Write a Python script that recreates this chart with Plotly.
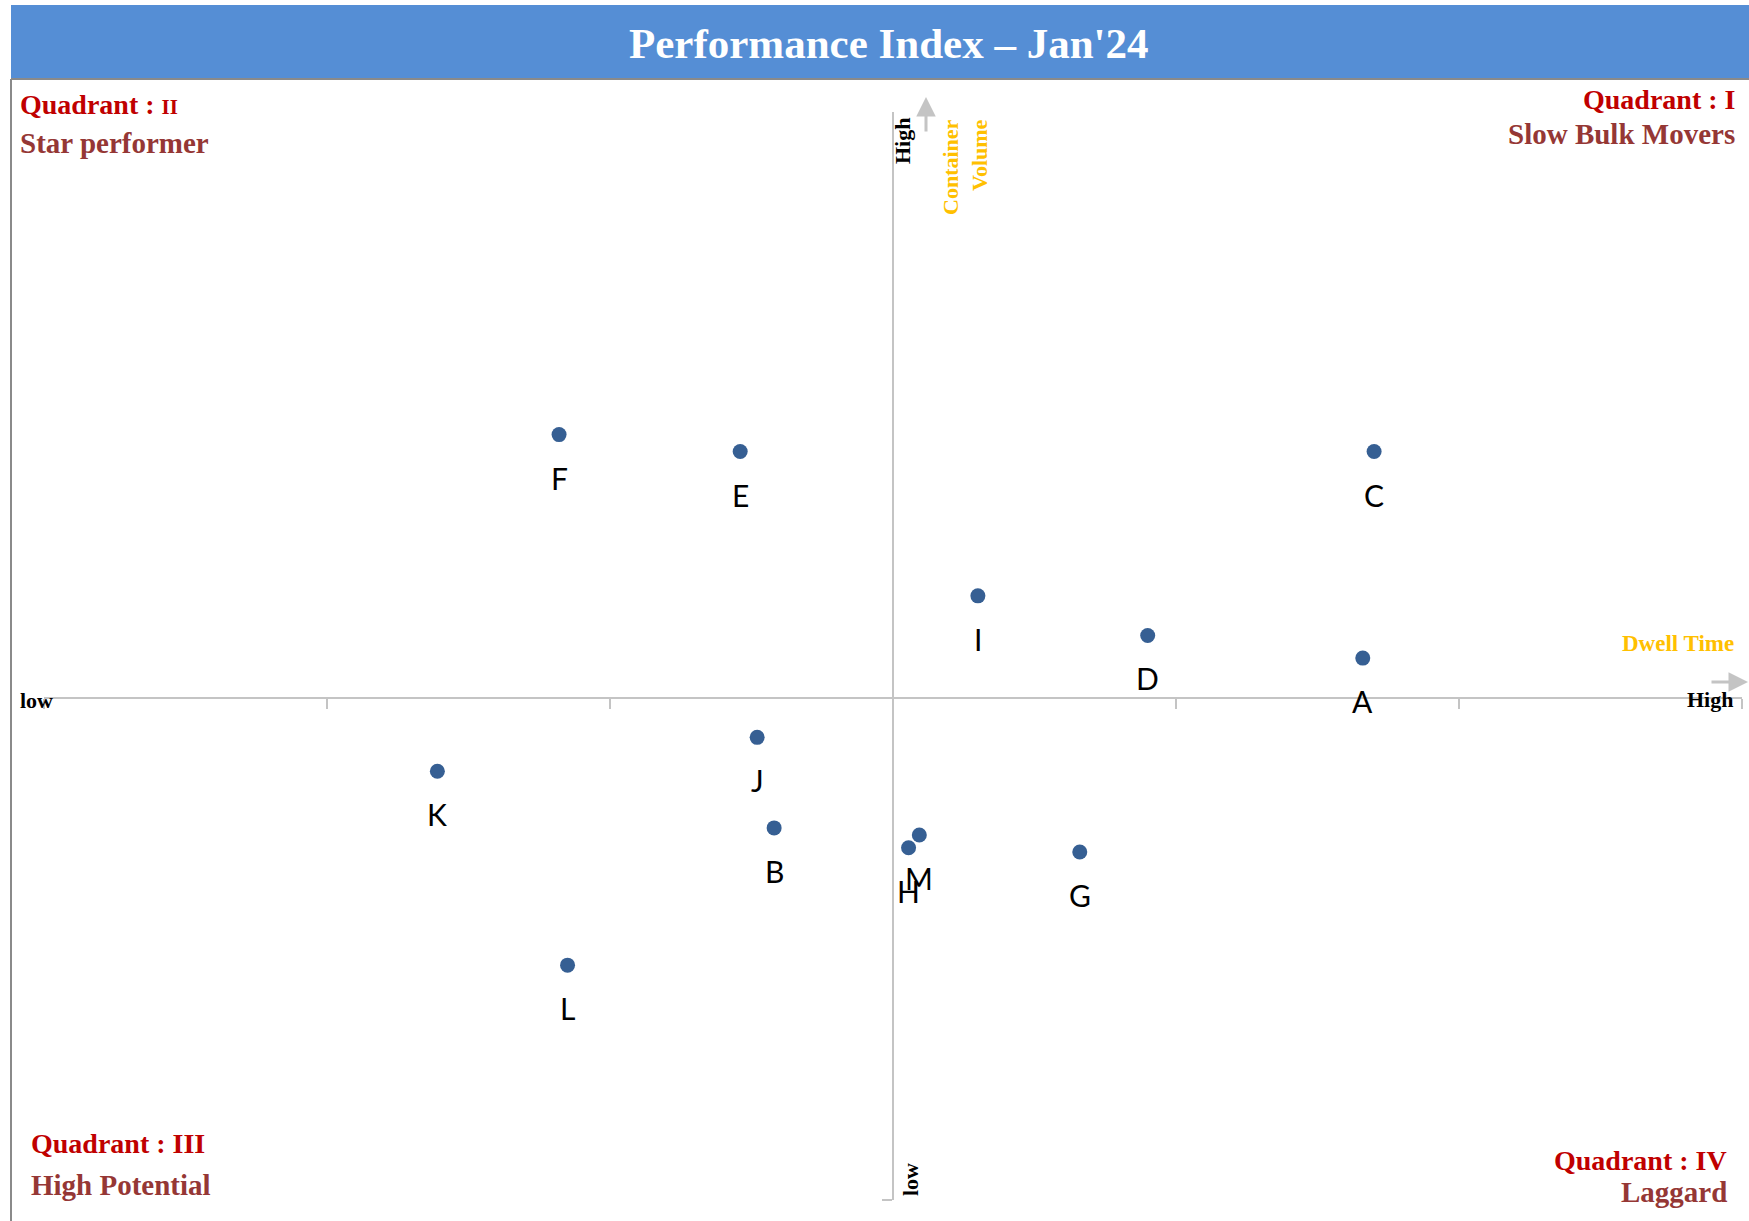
import plotly.graph_objects as go

W, H = 1749, 1221

# Terminal performance: dwell time (x) vs container volume (y), standardised scores
labels = ["A", "B", "C", "D", "E", "F", "G", "H", "I", "J", "K", "L", "M"]
dwell_time = [1.66, -0.42, 1.70, 0.90, -0.54, -1.18, 0.66, 0.055, 0.30, -0.48, -1.61, -1.15, 0.093]
container_volume = [0.14, -0.46, 0.87, 0.22, 0.87, 0.93, -0.545, -0.53, 0.36, -0.14, -0.26, -0.945, -0.485]

X_RANGE = [-3, 3]
Y_RANGE = [-1.775, 2.07]
X_TICKS = [-3, -2, -1, 0, 1, 2, 3]

SERIF = "Liberation Serif"
RED = "#C00000"
BROWN = "#953735"
GOLD = "#FFC000"
AXIS_GREY = "#C4C4C4"
DOT = "#365F93"


def fx(px):
    return px / W


def fy(py):
    return 1 - py / H


x_dom = [fx(44), fx(1742)]
y_dom = [fy(1200), fy(112)]

# place each axis line through the origin of the other axis
x_axis_pos = y_dom[0] + (0 - Y_RANGE[0]) / (Y_RANGE[1] - Y_RANGE[0]) * (y_dom[1] - y_dom[0])
y_axis_pos = x_dom[0] + (0 - X_RANGE[0]) / (X_RANGE[1] - X_RANGE[0]) * (x_dom[1] - x_dom[0])

fig = go.Figure()
fig.add_trace(go.Scatter(
    x=dwell_time, y=container_volume, mode="markers",
    marker=dict(size=15, color=DOT),
    hoverinfo="skip", showlegend=False,
))

annotations = []
for lab, xv, yv in zip(labels, dwell_time, container_volume):
    annotations.append(dict(
        x=xv, y=yv, xref="x", yref="y", text=lab, showarrow=False,
        yshift=-43, xanchor="center", yanchor="middle",
        font=dict(family="Lato", size=30, color="black"),
    ))


def note(text, x, y, size, color, xanchor="left", yanchor="middle", angle=0, align="left"):
    annotations.append(dict(
        x=fx(x), y=fy(y), xref="paper", yref="paper", text=text, showarrow=False,
        xanchor=xanchor, yanchor=yanchor, textangle=angle, align=align,
        font=dict(family=SERIF, size=size, color=color),
    ))


# title
note("<b>Performance Index – Jan'24</b>", 889, 43, 43, "white", xanchor="center")

# quadrant captions
note("<b>Quadrant : <span style='font-size:21px'>II</span></b>", 18, 105, 28, RED)
note("<b>Star performer</b>", 18, 143, 29, BROWN)
note("<b>Quadrant : I</b>", 1737, 99, 28, RED, xanchor="right")
note("<b>Slow Bulk Movers</b>", 1737, 134, 29, BROWN, xanchor="right")
note("<b>Quadrant : III</b>", 29, 1143, 28, RED)
note("<b>High Potential</b>", 29, 1185, 29, BROWN)
note("<b>Quadrant : IV</b>", 1729, 1160, 28, RED, xanchor="right")
note("<b>Laggard</b>", 1729, 1192, 29, BROWN, xanchor="right")

# axis end captions
note("<b>low</b>", 18, 700, 22, "black")
note("<b>High</b>", 1735, 699, 22, "black", xanchor="right")
note("<b>Dwell Time</b>", 1736, 643, 23, GOLD, xanchor="right")
note("<b>High</b>", 902, 141, 22, "black", xanchor="center", angle=-90)
note("<b>low</b>", 910, 1179, 22, "black", xanchor="center", angle=-90)
note("<b>Container<br>Volume</b>", 965, 167, 22, GOLD, xanchor="center", angle=-90, align="right")

# direction arrows
annotations.append(dict(
    x=fx(926), y=fy(97), xref="paper", yref="paper", ax=0, ay=36, text="",
    showarrow=True, arrowhead=2, arrowsize=1.3, arrowwidth=3, arrowcolor=AXIS_GREY,
))
annotations.append(dict(
    x=fx(1749), y=fy(682), xref="paper", yref="paper", ax=-39, ay=0, text="",
    showarrow=True, arrowhead=2, arrowsize=1.3, arrowwidth=3, arrowcolor=AXIS_GREY,
))

shapes = [
    dict(type="rect", xref="paper", yref="paper", x0=fx(11), x1=1, y0=fy(78), y1=fy(5),
         fillcolor="#558ED5", line=dict(width=0), layer="below"),
    dict(type="line", xref="paper", yref="paper", x0=fx(11), x1=1, y0=fy(79), y1=fy(79),
         line=dict(color="#8A8A8A", width=2)),
    dict(type="line", xref="paper", yref="paper", x0=fx(11), x1=fx(11), y0=fy(79), y1=0,
         line=dict(color="#8A8A8A", width=2)),
]

fig.update_layout(
    width=W, height=H, autosize=False,
    margin=dict(l=0, r=0, t=0, b=0, pad=0),
    paper_bgcolor="white", plot_bgcolor="white",
    xaxis=dict(
        range=X_RANGE, domain=x_dom, anchor="free", position=x_axis_pos,
        showline=True, linecolor=AXIS_GREY, linewidth=2,
        tickvals=X_TICKS, ticks="outside", ticklen=10, tickwidth=2, tickcolor=AXIS_GREY,
        showticklabels=False, showgrid=False, zeroline=False, fixedrange=True,
    ),
    yaxis=dict(
        range=Y_RANGE, domain=y_dom, anchor="free", position=y_axis_pos,
        showline=True, linecolor=AXIS_GREY, linewidth=2,
        tickvals=[Y_RANGE[0]], ticks="outside", ticklen=10, tickwidth=2, tickcolor=AXIS_GREY,
        showticklabels=False, showgrid=False, zeroline=False, fixedrange=True,
    ),
    annotations=annotations,
    shapes=shapes,
    showlegend=False,
)

fig.write_html("out.html")
